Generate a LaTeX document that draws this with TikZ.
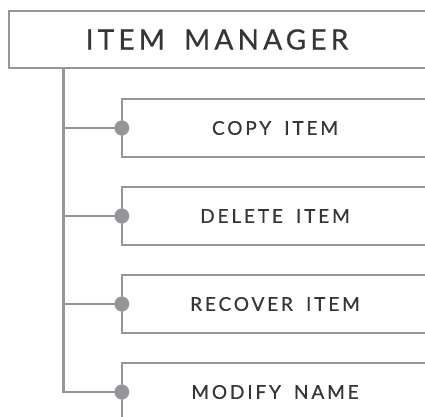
\documentclass[tikz,border=0pt]{standalone}
\usepackage{fontspec}
\setmainfont{Lato}[LetterSpace=15,WordSpace=1.7,FakeBold=0.6]
\definecolor{linegray}{HTML}{939598}
\definecolor{textgray}{HTML}{353537}
\begin{document}
\begin{tikzpicture}[x=1pt,y=1pt,
  conn/.style={draw=linegray,line width=2.2pt},
  headbox/.style={draw=none,minimum width=416pt,minimum height=57pt,inner sep=0pt,
    font=\fontsize{28}{30}\selectfont,text=textgray},
  itembox/.style={draw=none,minimum width=303pt,minimum height=57.5pt,inner sep=0pt,
    font=\fontsize{19}{21}\selectfont,text=textgray},
  dot/.style={fill=linegray}]
\clip (0,0) rectangle (425,-416);
\node[headbox] (top) at (217,-39.5) {ITEM MANAGER};
\draw[conn] ([xshift=20pt]top.north east) -- (top.north west) -- (top.south west) -- ([xshift=20pt]top.south east);
\foreach \n/\y/\t in {b1/128/COPY ITEM, b2/216/DELETE ITEM, b3/304/RECOVER ITEM, b4/392/MODIFY NAME}{
  \node[itembox] (\n) at (275,-\y) {\t};
  \draw[conn] ([xshift=20pt]\n.north east) -- ([xshift=-1.5pt]\n.north west) -- ([xshift=-1.5pt]\n.south west) -- ([xshift=20pt]\n.south east);
}
\coordinate (trunk) at (63.5,-68);
\draw[conn] (trunk) |- ([xshift=-1.5pt]b4.west);
\foreach \n in {b1,b2,b3}{
  \draw[conn] (trunk |- \n.west) -- ([xshift=-1.5pt]\n.west);
}
\foreach \n in {b1,b2,b3,b4}{
  \fill[dot] ([xshift=-1.5pt]\n.west) circle (7.5pt);
}
\end{tikzpicture}
\end{document}
